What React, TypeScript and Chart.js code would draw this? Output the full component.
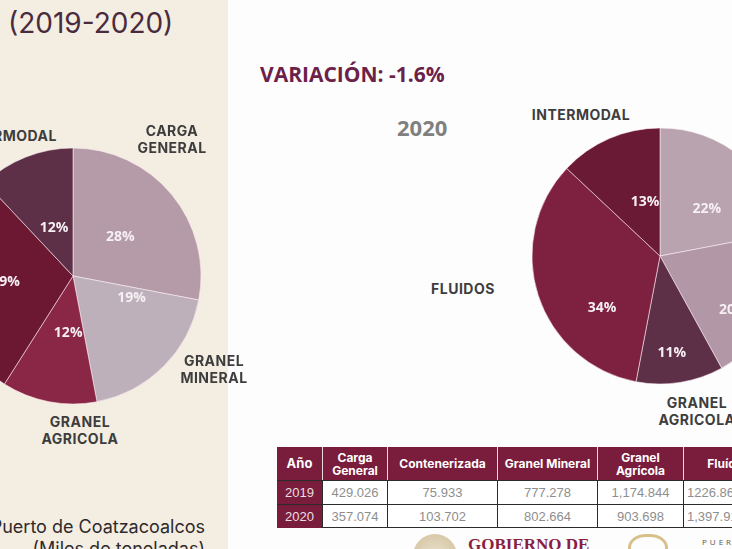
import React, { useEffect, useRef } from "react";
import { Chart, registerables } from "chart.js";

Chart.register(...registerables);

// ---- data ----
const categories = ["Carga General", "Granel Mineral", "Granel Agrícola", "Fluidos", "Intermodal"];
const share2019 = [28, 19, 12, 29, 12];
const share2020 = [22, 20, 11, 34, 13];

const tableHeaders = ["Año", "Carga General", "Contenerizada", "Granel Mineral", "Granel Agrícola", "Fluídos"];
const tableYears = ["2019", "2020"];
const values2019 = ["429.026", "75.933", "777.278", "1,174.844", "1226.864"];
const values2020 = ["357.074", "103.702", "802.664", "903.698", "1,397.917"];

// ---- styles ----
const colors2019 = ["#b59ba8", "#bdb0bb", "#8a2646", "#6c1833", "#5e3048"];
const colors2020 = ["#b9a3af", "#b298a6", "#5e3048", "#7e2040", "#6a1a34"];
// [angle nudge in degrees, radius fraction] for each percentage label
const nudge2019 = [[0, 0.48], [-24, 0.49], [-6, 0.45], [0, 0.53], [0, 0.4]];
const nudge2020 = [[5, 0.52], [11, 0.71], [2, 0.76], [-24, 0.61], [8, 0.44]];

const pctLabels = {
  id: "pctLabels",
  afterDatasetsDraw(chart: any, _args: any, opts: any) {
    const { ctx } = chart;
    const meta = chart.getDatasetMeta(0);
    const ds = chart.data.datasets[0];
    ctx.save();
    ctx.font = "bold 14px 'Open Sans', sans-serif";
    ctx.fillStyle = "#f6eff3";
    ctx.textAlign = "center";
    ctx.textBaseline = "middle";
    meta.data.forEach((arc: any, i: number) => {
      const p = arc.getProps(["x", "y", "startAngle", "endAngle", "outerRadius"], true);
      const n = (opts.nudge && opts.nudge[i]) || [0, 0.5];
      const a = (p.startAngle + p.endAngle) / 2 + (n[0] * Math.PI) / 180;
      const r = p.outerRadius * n[1];
      ctx.fillText(ds.data[i] + "%", p.x + Math.cos(a) * r, p.y + Math.sin(a) * r);
    });
    ctx.restore();
  },
};

function Pie({ data, colors, nudge, left, top }: any) {
  const ref = useRef<HTMLCanvasElement>(null);
  useEffect(() => {
    const chart = new Chart(ref.current as HTMLCanvasElement, {
      type: "pie",
      data: {
        labels: categories,
        datasets: [
          {
            data,
            backgroundColor: colors,
            borderColor: "rgba(255,240,245,0.55)",
            borderWidth: 1,
          },
        ],
      },
      options: {
        responsive: false,
        animation: false,
        radius: 128,
        layout: { padding: 0 },
        plugins: {
          legend: { display: false },
          tooltip: { enabled: false },
          pctLabels: { nudge },
        } as any,
      },
      plugins: [pctLabels],
    });
    return () => chart.destroy();
  }, []);
  return (
    <canvas
      ref={ref}
      width={260}
      height={260}
      style={{ position: "absolute", left, top, width: 260, height: 260 }}
    />
  );
}

const catStyle: React.CSSProperties = {
  position: "absolute",
  fontFamily: "Inter, 'Open Sans', sans-serif",
  fontWeight: 700,
  fontSize: 14,
  letterSpacing: 0.5,
  color: "#3d3d3d",
  lineHeight: "17px",
  textAlign: "center",
  whiteSpace: "nowrap",
};

function Label({ x, y, text, align }: any) {
  const tr = align === "right" ? "translate(-100%,-50%)" : align === "left" ? "translate(0,-50%)" : "translate(-50%,-50%)";
  return (
    <div style={{ ...catStyle, left: x, top: y, transform: tr }}>
      {text.split("\n").map((t: string, i: number) => (
        <div key={i}>{t}</div>
      ))}
    </div>
  );
}

const colLefts = [277, 322, 387, 497, 597, 683];
const colWidths = [45, 65, 110, 100, 86, 90];

function Table() {
  const headH = 33;
  const rowH = 24;
  const top = 447;
  const cells: any[] = [];
  tableHeaders.forEach((h, c) => {
    cells.push(
      <div
        key={"h" + c}
        style={{
          position: "absolute",
          left: colLefts[c],
          top,
          width: colWidths[c],
          height: headH,
          background: "#7a1d3c",
          borderLeft: c > 0 ? "1px solid #e9d9df" : "none",
          boxSizing: "border-box",
          color: "#fff",
          fontFamily: "Inter, 'Open Sans', sans-serif",
          fontWeight: 700,
          fontSize: c === 0 ? 13 : 12,
          lineHeight: "13px",
          display: "flex",
          alignItems: "center",
          justifyContent: "center",
          textAlign: "center",
          whiteSpace: "pre-line",
        }}
      >
        {h === "Carga General" ? "Carga\nGeneral" : h === "Granel Agrícola" ? "Granel\nAgrícola" : h}
      </div>
    );
  });
  [values2019, values2020].forEach((row, r) => {
    const y = top + headH + r * rowH;
    cells.push(
      <div
        key={"y" + r}
        style={{
          position: "absolute",
          left: colLefts[0],
          top: y,
          width: colWidths[0],
          height: rowH,
          background: "#7a1d3c",
          borderTop: "1px solid #2b2b2b",
          boxSizing: "border-box",
          color: "#e8dfe3",
          fontFamily: "'Liberation Sans', Arial, sans-serif",
          fontSize: 13,
          display: "flex",
          alignItems: "center",
          justifyContent: "center",
        }}
      >
        {tableYears[r]}
      </div>
    );
    row.forEach((v, c) => {
      cells.push(
        <div
          key={"v" + r + c}
          style={{
            position: "absolute",
            left: colLefts[c + 1],
            top: y,
            width: colWidths[c + 1],
            height: rowH,
            background: "#fff",
            borderTop: "1px solid #2b2b2b",
            borderLeft: "1px solid #2b2b2b",
            borderBottom: r === 1 ? "1px solid #2b2b2b" : "none",
            boxSizing: "border-box",
            color: "#8e8e8e",
            fontFamily: "'Liberation Sans', Arial, sans-serif",
            fontSize: 13,
            display: "flex",
            alignItems: "center",
            justifyContent: c === 4 ? "flex-start" : "center",
            paddingLeft: c === 4 ? 3 : 0,
          }}
        >
          {v}
        </div>
      );
    });
  });
  return <>{cells}</>;
}

export default function App() {
  useEffect(() => {
    document.body.style.margin = "0";
    document.body.style.overflow = "hidden";
  }, []);
  return (
    <div
      style={{
        position: "fixed",
        left: 0,
        top: 0,
        width: 732,
        height: 549,
        overflow: "hidden",
        background: "#fdfdfd",
      }}
    >
      <div style={{ position: "absolute", left: 0, top: 0, width: 228, height: 549, background: "#f4ede2" }} />
      <div
        style={{
          position: "absolute",
          left: 8,
          top: 6,
          fontFamily: "Inter, 'Open Sans', sans-serif",
          fontSize: 28,
          lineHeight: "34px",
          color: "#4a2b3d",
          whiteSpace: "nowrap",
        }}
      >
        (2019-2020)
      </div>
      <div
        style={{
          position: "absolute",
          left: 260,
          top: 60,
          fontFamily: "'Open Sans', sans-serif",
          fontWeight: 700,
          fontSize: 21,
          color: "#6b2148",
          whiteSpace: "nowrap",
        }}
      >
        VARIACIÓN: -1.6%
      </div>
      <div
        style={{
          position: "absolute",
          left: 397,
          top: 112,
          fontFamily: "'Open Sans', sans-serif",
          fontWeight: 700,
          fontSize: 22,
          color: "#808080",
        }}
      >
        2020
      </div>

      <Pie data={share2019} colors={colors2019} nudge={nudge2019} left={-57} top={146} />
      <Pie data={share2020} colors={colors2020} nudge={nudge2020} left={530} top={126} />

      <Label x={57} y={135} text="INTERMODAL" align="right" />
      <Label x={172} y={139} text={"CARGA\nGENERAL"} />
      <Label x={214} y={369} text={"GRANEL\nMINERAL"} />
      <Label x={80} y={430} text={"GRANEL\nAGRICOLA"} />

      <Label x={581} y={114} text="INTERMODAL" />
      <Label x={463} y={288} text="FLUIDOS" />
      <Label x={697} y={411} text={"GRANEL\nAGRICOLA"} />

      <Table />

      <div
        style={{
          position: "absolute",
          left: -20,
          top: 516,
          width: 225,
          textAlign: "right",
          fontFamily: "Inter, 'Open Sans', sans-serif",
          fontSize: 18,
          color: "#2e2a2c",
          lineHeight: "22px",
          whiteSpace: "nowrap",
        }}
      >
        <div>Puerto de Coatzacoalcos</div>
        <div>(Miles de toneladas)</div>
      </div>

      <div
        style={{
          position: "absolute",
          left: 413,
          top: 534,
          width: 44,
          height: 44,
          borderRadius: "50%",
          background: "radial-gradient(circle, #e9e1cf 0%, #d8c9a8 70%, #cdbd9b 100%)",
        }}
      />
      <div
        style={{
          position: "absolute",
          left: 468,
          top: 535,
          fontFamily: "'Liberation Serif', serif",
          fontWeight: 700,
          fontSize: 17,
          color: "#8a1f3f",
          whiteSpace: "nowrap",
        }}
      >
        GOBIERNO DE
      </div>
      <div
        style={{
          position: "absolute",
          left: 628,
          top: 534,
          width: 40,
          height: 30,
          borderRadius: "45%",
          border: "3px solid #d7c08a",
          boxSizing: "border-box",
        }}
      />
      <div
        style={{
          position: "absolute",
          left: 702,
          top: 536,
          fontFamily: "'Open Sans', sans-serif",
          fontSize: 8,
          letterSpacing: 3,
          color: "#555",
          whiteSpace: "nowrap",
        }}
      >
        PUERTO
      </div>
    </div>
  );
}
